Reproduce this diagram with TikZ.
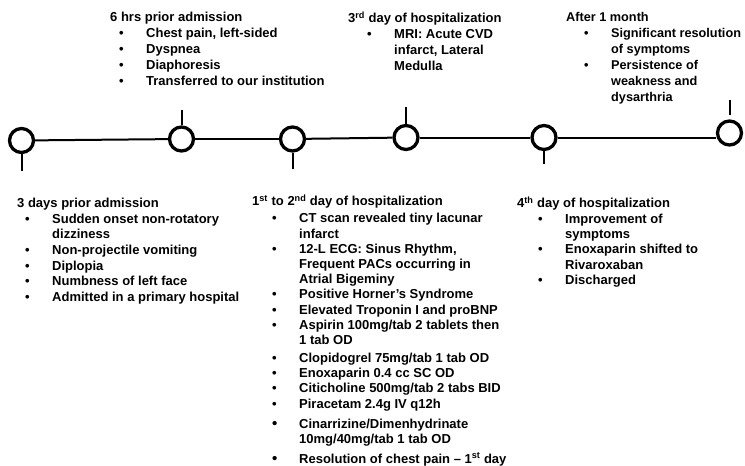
\documentclass[tikz,border=0pt]{standalone}
\usepackage{fontspec}
\setmainfont{Liberation Sans}
\newlength{\bulin}
\newcommand{\bitem}{\hspace*{\bulin}\makebox[27pt][l]{\textbullet}}
\newcommand{\bigbitem}{\hspace*{\bulin}\makebox[27pt][l]{\fontsize{15}{15}\selectfont\textbullet}}
\newcommand{\bcont}{\hspace*{\bulin}\hspace*{27pt}}
\tikzset{
stop/.style={
  circle,
  draw,
  line width=3.3pt,
  minimum size=24pt,
  inner sep=0pt,
  fill=white
},
blurb/.style={
  anchor=north west,
  yshift=9.5pt,
  align=left,
  inner sep=0pt,
  font=\bfseries\fontsize{13}{15.6}\selectfont,
  execute at begin node={\setlength{\bulin}{#1}\rule{0pt}{11pt}}
},
blurb/.default=9pt,
tallrows/.style={font=\bfseries\fontsize{13}{16}\selectfont},
stem/.style={line width=2pt}
}

\begin{document}
\begin{tikzpicture}[x=1pt,y=-1pt]
\useasboundingbox (0,0) rectangle (745,466);
% the time line
\node[stop] (ev1) at (21.5,140.5) {};
\node[stop] (ev2) at (181.5,139) {};
\node[stop] (ev3) at (292.5,139) {};
\node[stop] (ev4) at (406,137.5) {};
\node[stop] (ev5) at (544,137.5) {};
\node[stop] (ev6) at (729.5,133) {};
\foreach \a/\b in {ev1/ev2,ev2/ev3,ev3/ev4,ev4/ev5}
{
  \draw[stem] (\a) -- (\b);
}
\draw[stem] (ev5) -- (ev5 -| ev6.west);
% the stems
\draw[stem] (ev1.south) -- ++(0,17);
\draw[stem] (ev2.north) -- ++(0,-15);
\draw[stem] (ev3.south) -- ++(0,16);
\draw[stem] (ev4.north) -- ++(0,-17);
\draw[stem] (ev5.south) -- ++(0,13);
\draw[stem] ([yshift=4pt]ev6.north) -- ++(0,-15);
% above the line
\node[blurb=9pt,tallrows] (hrs6) at (110,21) {6 hrs prior admission\\
  \bitem Chest pain, left-sided\\
  \bitem Dyspnea\\
  \bitem Diaphoresis\\
  \bitem Transferred to our institution};
\node[blurb=19pt,tallrows] (day3) at (348,21) {3\textsuperscript{rd} day of hospitalization\\
  \bitem MRI: Acute CVD\\
  \bcont infarct, Lateral\\
  \bcont Medulla};
\node[blurb=18pt,font=\bfseries\fontsize{12.7}{16}\selectfont] (month1) at (566,21.5) {After 1 month\\
  \bitem Significant resolution\\
  \bcont of symptoms\\
  \bitem Persistence of\\
  \bcont weakness and\\
  \bcont dysarthria};
% below the line
\node[blurb=8pt] (days3) at (17,207.5) {3 days prior admission\\
  \bitem Sudden onset non-rotatory\\
  \bcont dizziness\\
  \bitem Non-projectile vomiting\\
  \bitem Diplopia\\
  \bitem Numbness of left face\\
  \bitem Admitted in a primary hospital};
\node[blurb=20pt,font=\bfseries\fontsize{13}{15.2}\selectfont] (day12) at (252,204.3) {1\textsuperscript{st} to 2\textsuperscript{nd} day of hospitalization\\[1.8pt]
  \bitem CT scan revealed tiny lacunar\\
  \bcont infarct\\
  \bitem 12-L ECG: Sinus Rhythm,\\
  \bcont Frequent PACs occurring in\\
  \bcont Atrial Bigeminy\\
  \bitem Positive Horner's Syndrome\\
  \bitem Elevated Troponin I and proBNP\\
  \bitem Aspirin 100mg/tab 2 tablets then\\
  \bcont 1 tab OD\\[2.8pt]
  \bitem Clopidogrel 75mg/tab 1 tab OD\\
  \bitem Enoxaparin 0.4 cc SC OD\\
  \bitem Citicholine 500mg/tab 2 tabs BID\\
  \bitem Piracetam 2.4g IV q12h\\[4.8pt]
  \bigbitem Cinarrizine/Dimenhydrinate\\
  \bcont 10mg/40mg/tab 1 tab OD\\[4.8pt]
  \bigbitem Resolution of chest pain -- 1\textsuperscript{st} day};
\node[blurb=21pt,font=\bfseries\fontsize{13}{15.4}\selectfont] (day4) at (517,206) {4\textsuperscript{th} day of hospitalization\\
  \bitem Improvement of\\
  \bcont symptoms\\
  \bitem Enoxaparin shifted to\\
  \bcont Rivaroxaban\\
  \bitem Discharged};
\end{tikzpicture}
\end{document}
